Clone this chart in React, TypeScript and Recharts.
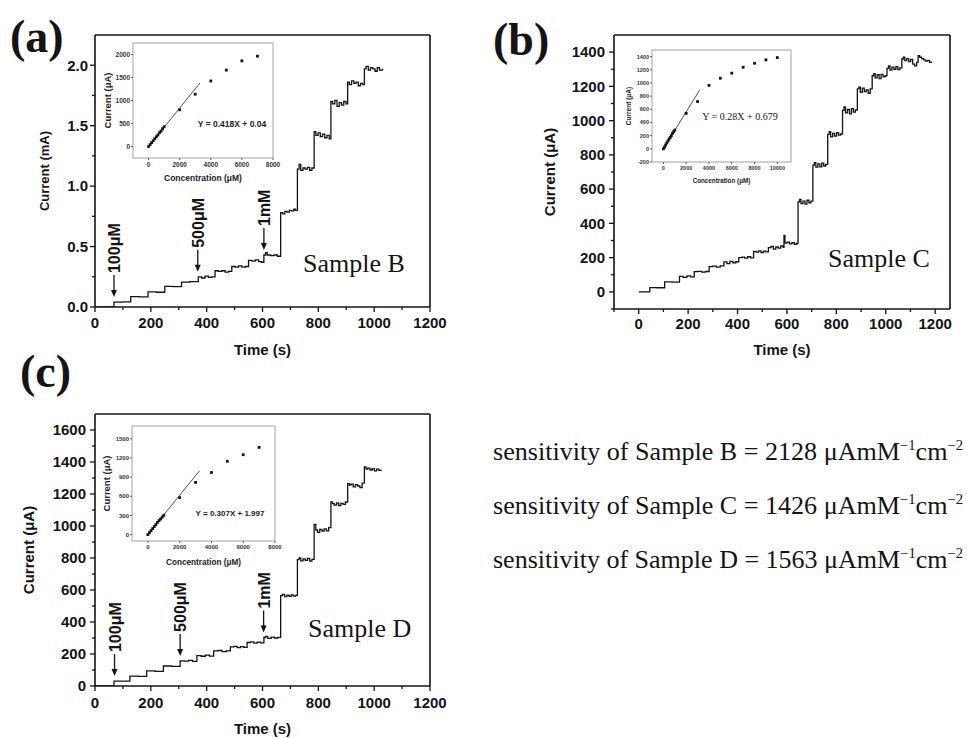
import React from 'react';
import { LineChart, Line, XAxis, YAxis, ReferenceDot, ReferenceLine, ScatterChart, Scatter } from 'recharts';

const SANS = '"Liberation Sans", Arial, sans-serif';
const SERIF = '"Liberation Serif", "Times New Roman", serif';
const INK = '#141414';

// amperometric traces: [time (s), current]
// Sample B in mA
const traceB: [number, number][] = [
  [0, 0], [68, 0.041], [98, 0.042], [128, 0.085], [158, 0.083], [190, 0.125], [220, 0.122],
  [250, 0.17], [280, 0.168], [310, 0.205], [340, 0.21], [370, 0.25], [382, 0.24], [394, 0.255],
  [406, 0.245], [418, 0.25], [430, 0.3], [442, 0.295], [454, 0.3], [466, 0.288], [478, 0.295],
  [490, 0.335], [502, 0.33], [514, 0.34], [526, 0.33], [538, 0.335], [550, 0.385], [562, 0.38],
  [574, 0.39], [586, 0.375], [596, 0.37], [605, 0.43], [611, 0.45], [617, 0.43], [629, 0.425],
  [641, 0.43], [653, 0.42],
  [665, 0.78], [672, 0.77], [680, 0.79], [688, 0.785], [696, 0.8], [704, 0.795], [712, 0.81], [718, 0.8],
  [725, 1.14], [731, 1.18], [737, 1.13], [745, 1.15], [753, 1.14], [761, 1.155], [769, 1.13], [777, 1.15],
  [785, 1.45], [791, 1.42], [799, 1.44], [807, 1.41], [815, 1.43], [823, 1.4], [831, 1.42], [839, 1.39],
  [845, 1.7], [851, 1.68], [859, 1.71], [867, 1.66], [875, 1.69], [883, 1.67], [891, 1.7], [899, 1.68],
  [905, 1.86], [911, 1.84], [919, 1.87], [927, 1.85], [935, 1.86], [943, 1.83], [951, 1.85], [959, 1.84],
  [965, 1.97], [971, 1.99], [979, 1.96], [987, 1.98], [995, 1.97], [1003, 1.95], [1011, 1.98],
  [1019, 1.96], [1030, 1.97],
];

// Sample C in uA
const traceC: [number, number][] = [
  [0, 0], [45, 25], [75, 24], [105, 58], [135, 57], [165, 90], [180, 85], [195, 93], [210, 88],
  [225, 118], [240, 120], [255, 115], [270, 119], [285, 148], [300, 150], [315, 145], [330, 152],
  [345, 175], [357, 165], [369, 178], [381, 170], [393, 176], [405, 200], [417, 203], [429, 197],
  [441, 205], [453, 199], [465, 236], [475, 232], [485, 240], [495, 230], [505, 238], [515, 233],
  [525, 258], [535, 265], [545, 250], [555, 262], [565, 255], [575, 268], [585, 260], [588, 330],
  [592, 285], [600, 290], [610, 280], [620, 287], [630, 278], [640, 284],
  [645, 525], [651, 540], [657, 515], [665, 530], [673, 512], [681, 535], [689, 520], [697, 530],
  [705, 740], [711, 755], [717, 728], [725, 748], [733, 730], [741, 752], [749, 735], [757, 745],
  [765, 920], [771, 935], [777, 905], [785, 925], [793, 910], [801, 930], [809, 915], [817, 922],
  [825, 1060], [831, 1080], [837, 1045], [845, 1065], [853, 1040], [861, 1070], [869, 1050], [877, 1062],
  [885, 1185], [891, 1195], [897, 1165], [905, 1190], [913, 1170], [921, 1180], [929, 1160], [937, 1185],
  [945, 1262], [951, 1275], [957, 1250], [965, 1268], [973, 1245], [981, 1270], [989, 1255], [997, 1262],
  [1005, 1305], [1011, 1320], [1017, 1295], [1025, 1312], [1033, 1300], [1041, 1315], [1049, 1298], [1057, 1308],
  [1065, 1360], [1071, 1370], [1077, 1350], [1085, 1362], [1093, 1345], [1101, 1358], [1109, 1330], [1117, 1320],
  [1125, 1340], [1131, 1380], [1137, 1370], [1145, 1362], [1153, 1355], [1161, 1348], [1169, 1352],
  [1177, 1340], [1185, 1345],
];

// Sample D in uA
const traceD: [number, number][] = [
  [0, 0], [68, 31], [96, 30], [125, 62], [155, 60], [185, 94], [215, 92], [245, 125], [275, 123],
  [305, 157], [320, 155], [335, 160], [350, 154], [365, 190], [380, 186], [395, 193], [410, 187],
  [425, 219], [440, 222], [455, 215], [470, 220], [485, 244], [497, 248], [509, 240], [521, 246],
  [533, 242], [545, 272], [557, 276], [569, 268], [581, 274], [593, 270], [605, 303], [611, 310],
  [619, 298], [631, 305], [643, 300], [655, 304],
  [665, 565], [671, 572], [679, 558], [687, 568], [695, 560], [703, 570], [711, 562], [719, 566],
  [725, 790], [731, 800], [737, 782], [745, 795], [753, 785], [761, 798], [769, 780], [777, 792],
  [785, 1010], [791, 975], [797, 960], [805, 978], [813, 968], [821, 982], [829, 970], [837, 990],
  [845, 1150], [851, 1140], [857, 1130], [865, 1145], [873, 1128], [881, 1142], [889, 1135], [897, 1150],
  [905, 1265], [911, 1255], [917, 1262], [925, 1245], [933, 1258], [941, 1250], [949, 1240], [957, 1268],
  [965, 1370], [971, 1355], [977, 1362], [985, 1350], [993, 1358], [1001, 1345], [1009, 1355],
  [1017, 1348], [1025, 1352],
];

// calibration insets: concentration (uM) vs current (uA)
const concB = [0, 100, 200, 300, 400, 500, 600, 700, 800, 900, 1000, 2000, 3000, 4000, 5000, 6000, 7000];
const respB = [0, 41, 85, 125, 170, 210, 250, 300, 335, 385, 430, 798, 1137, 1424, 1661, 1862, 1963];
const fitB: [number, number][] = [[0, 0], [3300, 1380]];

const concC = [0, 100, 200, 300, 400, 500, 600, 700, 800, 900, 1000, 2000, 3000, 4000, 5000, 6000, 7000, 8000, 9000, 10000];
const respC = [0, 25, 58, 90, 118, 148, 173, 200, 236, 260, 285, 538, 717, 963, 1072, 1148, 1238, 1299, 1350, 1385];
const fitC: [number, number][] = [[0, 0], [3200, 897]];

const concD = [0, 100, 200, 300, 400, 500, 600, 700, 800, 900, 1000, 2000, 3000, 4000, 5000, 6000, 7000];
const respD = [0, 31, 62, 94, 125, 157, 190, 219, 244, 272, 303, 579, 817, 972, 1148, 1251, 1365];
const fitD: [number, number][] = [[0, 2], [3250, 1000]];

// injection markers
const arrowsB = [
  { t: 68, i: 0.041, label: '100μM' },
  { t: 368, i: 0.25, label: '500μM' },
  { t: 605, i: 0.43, label: '1mM' },
];
const arrowsD = [
  { t: 70, i: 31, label: '100μM' },
  { t: 305, i: 157, label: '500μM' },
  { t: 604, i: 303, label: '1mM' },
];

// tick values
const timeTicks = [0, 100, 200, 300, 400, 500, 600, 700, 800, 900, 1000, 1100, 1200];
const timeTicksC = [-100, ...timeTicks];
const currentTicksB = [0, 0.25, 0.5, 0.75, 1.0, 1.25, 1.5, 1.75, 2.0];
const currentTicksC = [-100, 0, 100, 200, 300, 400, 500, 600, 700, 800, 900, 1000, 1100, 1200, 1300, 1400];
const currentTicksD = [0, 100, 200, 300, 400, 500, 600, 700, 800, 900, 1000, 1100, 1200, 1300, 1400, 1500, 1600];
const insetXTicks8k = [0, 2000, 4000, 6000, 8000];
const insetXTicks10k = [0, 2000, 4000, 6000, 8000, 10000];
const insetYTicksB = [0, 500, 1000, 1500, 2000];
const insetYTicksC = [-200, 0, 200, 400, 600, 800, 1000, 1200, 1400];
const insetYTicksD = [0, 300, 600, 900, 1200, 1500];

const sensitivities = [
  { sample: 'B', value: 2128 },
  { sample: 'C', value: 1426 },
  { sample: 'D', value: 1563 },
];

const isMult = (step: number) => (v: number) => Math.abs(v / step - Math.round(v / step)) < 1e-6;

function AxisTick(props: any) {
  const { x, y, payload, side, major, fmt, fs, len, minorLen, gap, color, width } = props;
  const v = payload.value;
  const big = major(v);
  const l = big ? len : minorLen;
  if (side === 'bottom') {
    return (
      <g>
        <line x1={x} y1={y} x2={x} y2={y + l} stroke={color} strokeWidth={width} />
        {big && (
          <text x={x} y={y + gap + fs * 0.716} textAnchor="middle" fontSize={fs} fontWeight="bold" fontFamily={SANS} fill={color}>
            {fmt(v)}
          </text>
        )}
      </g>
    );
  }
  return (
    <g>
      <line x1={x} y1={y} x2={x - l} y2={y} stroke={color} strokeWidth={width} />
      {big && (
        <text x={x - gap} y={y + fs * 0.358} textAnchor="end" fontSize={fs} fontWeight="bold" fontFamily={SANS} fill={color}>
          {fmt(v)}
        </text>
      )}
    </g>
  );
}

function ArrowMark(props: any) {
  const { cx, cy, label } = props;
  const tip = cy - 5;
  const top = tip - 22;
  const tx = cx + 6;
  return (
    <g>
      <line x1={cx} y1={tip - 5} x2={cx} y2={top} stroke={INK} strokeWidth={1.3} />
      <polygon points={`${cx},${tip} ${cx - 3},${tip - 7} ${cx + 3},${tip - 7}`} fill={INK} />
      <text x={tx} y={top - 2} transform={`rotate(-90 ${tx} ${top - 2})`} fontSize={16} fontWeight="bold" fontFamily={SANS} fill={INK}>
        {label}
      </text>
    </g>
  );
}

function MainPanel(p: any) {
  const data = p.trace.map(([t, i]: [number, number]) => ({ t, i }));
  const tickCommon = { color: INK, len: 5, minorLen: 3, fs: 15, width: 1.3 };
  return (
    <div style={{ position: 'absolute', left: p.left, top: p.top }}>
      <LineChart width={p.width} height={p.height} data={data} margin={{ top: p.mt, right: p.mr, left: 0, bottom: 0 }}>
        <XAxis
          dataKey="t"
          type="number"
          domain={p.xDomain}
          ticks={p.xTicks}
          interval={0}
          allowDataOverflow
          height={p.xHeight}
          tickSize={0}
          tickMargin={0}
          tickLine={false}
          axisLine={{ stroke: INK, strokeWidth: 1.6 }}
          tick={(tp: any) => <AxisTick {...tp} {...tickCommon} side="bottom" major={isMult(200)} fmt={(v: number) => String(v)} gap={p.xGap} />}
          label={{ value: 'Time (s)', position: 'insideBottom', offset: p.xLabelOffset, fill: INK, style: { fontFamily: SANS, fontWeight: 'bold', fontSize: 15, fill: INK } }}
        />
        <YAxis
          dataKey="i"
          type="number"
          domain={p.yDomain}
          ticks={p.yTicks}
          interval={0}
          allowDataOverflow
          width={p.yWidth}
          tickSize={0}
          tickMargin={0}
          tickLine={false}
          axisLine={{ stroke: INK, strokeWidth: 1.6 }}
          tick={(tp: any) => <AxisTick {...tp} {...tickCommon} side="left" major={p.yMajor} fmt={p.yFmt} gap={p.yGap} />}
          label={{ value: p.yLabel, angle: -90, position: 'insideLeft', offset: p.yLabelOffset, fill: INK, style: { textAnchor: 'middle', fontFamily: SANS, fontWeight: 'bold', fontSize: p.yLabelFs, fill: INK } }}
        />
        {/* frame: top and right edges of the plot box */}
        <ReferenceLine y={p.yDomain[1]} stroke={INK} strokeWidth={1.6} />
        <ReferenceLine x={p.xDomain[1]} stroke={INK} strokeWidth={1.6} />
        <Line dataKey="i" type="stepAfter" stroke={INK} strokeWidth={1.3} dot={false} isAnimationActive={false} />
        {(p.arrows || []).map((a: any) => (
          <ReferenceDot key={a.label} x={a.t} y={a.i} r={0} ifOverflow="visible" shape={(sp: any) => <ArrowMark {...sp} label={a.label} />} />
        ))}
      </LineChart>
    </div>
  );
}

function Inset(p: any) {
  const pts = p.conc.map((c: number, k: number) => ({ x: c, y: p.resp[k] }));
  const fit = p.fit.map(([x, y]: [number, number]) => ({ x, y }));
  const gray = '#8a8a8a';
  const tickCommon = { color: '#333', len: 2, minorLen: 2, fs: p.tickFs, width: 0.8 };
  return (
    <div style={{ position: 'absolute', left: p.left, top: p.top }}>
      <ScatterChart width={p.width} height={p.height} margin={{ top: 5, right: p.mr, left: 0, bottom: 0 }}>
        <XAxis
          dataKey="x"
          type="number"
          domain={p.xDomain}
          ticks={p.xTicks}
          interval={0}
          allowDataOverflow
          height={p.xHeight}
          tickSize={0}
          tickMargin={0}
          tickLine={false}
          axisLine={{ stroke: gray, strokeWidth: 0.8 }}
          tick={(tp: any) => <AxisTick {...tp} {...tickCommon} side="bottom" major={() => true} fmt={(v: number) => String(v)} gap={4} />}
          label={{ value: 'Concentration (μM)', position: 'insideBottom', offset: p.xTitleOffset, fill: '#222', style: { fontFamily: SANS, fontWeight: 'bold', fontSize: p.xTitleFs, fill: '#222' } }}
        />
        <YAxis
          dataKey="y"
          type="number"
          domain={p.yDomain}
          ticks={p.yTicks}
          interval={0}
          allowDataOverflow
          width={p.yWidth}
          tickSize={0}
          tickMargin={0}
          tickLine={false}
          axisLine={{ stroke: gray, strokeWidth: 0.8 }}
          tick={(tp: any) => <AxisTick {...tp} {...tickCommon} side="left" major={() => true} fmt={(v: number) => String(v)} gap={3} />}
          label={{ value: 'Current (μA)', angle: -90, position: 'insideLeft', offset: p.yTitleOffset, fill: '#222', style: { textAnchor: 'middle', fontFamily: SANS, fontWeight: 'bold', fontSize: p.yTitleFs, fill: '#222' } }}
        />
        <ReferenceLine y={p.yDomain[1]} stroke={gray} strokeWidth={0.8} />
        <ReferenceLine x={p.xDomain[1]} stroke={gray} strokeWidth={0.8} />
        <Scatter data={fit} line={{ stroke: '#222', strokeWidth: 0.8 }} shape={() => <g />} isAnimationActive={false} />
        <Scatter
          data={pts}
          isAnimationActive={false}
          shape={(sp: any) => <rect x={sp.cx - 1.4} y={sp.cy - 1.4} width={2.8} height={2.8} fill={INK} />}
        />
      </ScatterChart>
    </div>
  );
}

export default function App() {
  return (
    <div style={{ position: 'absolute', left: 0, top: 0, width: 967, height: 738, background: '#fff', overflow: 'hidden' }}>
      <MainPanel
        left={0} top={0} width={450} height={365} mt={35} mr={20}
        trace={traceB} xDomain={[0, 1200]} xTicks={timeTicks} xHeight={58} xGap={10} xLabelOffset={10}
        yDomain={[0, 2.25]} yTicks={currentTicksB} yMajor={isMult(0.5)} yFmt={(v: number) => v.toFixed(1)}
        yWidth={95} yGap={7} yLabel="Current (mA)" yLabelFs={13} yLabelOffset={44}
        arrows={arrowsB}
      />
      <MainPanel
        left={480} top={0} width={487} height={365} mt={35} mr={17}
        trace={traceC} xDomain={[-100, 1260]} xTicks={timeTicksC} xHeight={56} xGap={9} xLabelOffset={10}
        yDomain={[-100, 1500]} yTicks={currentTicksC} yMajor={isMult(200)} yFmt={(v: number) => String(v)}
        yWidth={134} yGap={9} yLabel="Current (μA)" yLabelFs={15} yLabelOffset={70}
      />
      <MainPanel
        left={0} top={380} width={450} height={358} mt={34} mr={20}
        trace={traceD} xDomain={[0, 1200]} xTicks={timeTicks} xHeight={52} xGap={11} xLabelOffset={4}
        yDomain={[0, 1700]} yTicks={currentTicksD} yMajor={isMult(200)} yFmt={(v: number) => String(v)}
        yWidth={95} yGap={9} yLabel="Current (μA)" yLabelFs={15} yLabelOffset={29}
        arrows={arrowsD}
      />

      <Inset
        left={96} top={38} width={192} height={148} mr={15} conc={concB} resp={respB} fit={fitB}
        xDomain={[-1000, 8000]} xTicks={insetXTicks8k} yDomain={[-250, 2250]} yTicks={insetYTicksB}
        yWidth={37} xHeight={28} tickFs={6.5} yTitleFs={9.5} xTitleFs={8.5} yTitleOffset={12} xTitleOffset={5}
      />
      <Inset
        left={620} top={45} width={186} height={143} mr={15} conc={concC} resp={respC} fit={fitC}
        xDomain={[-1000, 11200]} xTicks={insetXTicks10k} yDomain={[-200, 1500]} yTicks={insetYTicksC}
        yWidth={32} xHeight={26} tickFs={5.5} yTitleFs={6.5} xTitleFs={6.3} yTitleOffset={9} xTitleOffset={5}
      />
      <Inset
        left={96} top={421} width={194} height={148} mr={15} conc={concD} resp={respD} fit={fitD}
        xDomain={[-1000, 8000]} xTicks={insetXTicks8k} yDomain={[-100, 1700]} yTicks={insetYTicksD}
        yWidth={36} xHeight={28} tickFs={6} yTitleFs={9.5} xTitleFs={8.2} yTitleOffset={11} xTitleOffset={4}
      />

      <svg width={967} height={738} style={{ position: 'absolute', left: 0, top: 0, pointerEvents: 'none' }}>
        <g fontFamily={SERIF} fill={INK}>
          <text x={10} y={52} fontSize={46} fontWeight="bold">(a)</text>
          <text x={493} y={55} fontSize={46} fontWeight="bold">(b)</text>
          <text x={20} y={387} fontSize={46} fontWeight="bold">(c)</text>
          <text x={303} y={272} fontSize={26}>Sample B</text>
          <text x={828} y={267} fontSize={26}>Sample C</text>
          <text x={308} y={637} fontSize={26}>Sample D</text>
          <text x={740} y={119.5} fontSize={10} textAnchor="middle">Y = 0.28X + 0.679</text>
          {sensitivities.map((s, k) => (
            <text key={s.sample} x={493} y={460 + k * 54} fontSize={25} textLength={470} lengthAdjust="spacingAndGlyphs">
              {`sensitivity of Sample ${s.sample} = ${s.value} μAmM`}
              <tspan fontSize={14} dy={-10}>−1</tspan>
              <tspan fontSize={25} dy={10}>cm</tspan>
              <tspan fontSize={14} dy={-10}>−2</tspan>
            </text>
          ))}
        </g>
        <g fontFamily={SANS} fontWeight="bold" fill="#222" textAnchor="middle">
          <text x={232} y={127} fontSize={8.5}>Y = 0.418X + 0.04</text>
          <text x={230} y={516} fontSize={8}>Y = 0.307X + 1.997</text>
        </g>
      </svg>
    </div>
  );
}
